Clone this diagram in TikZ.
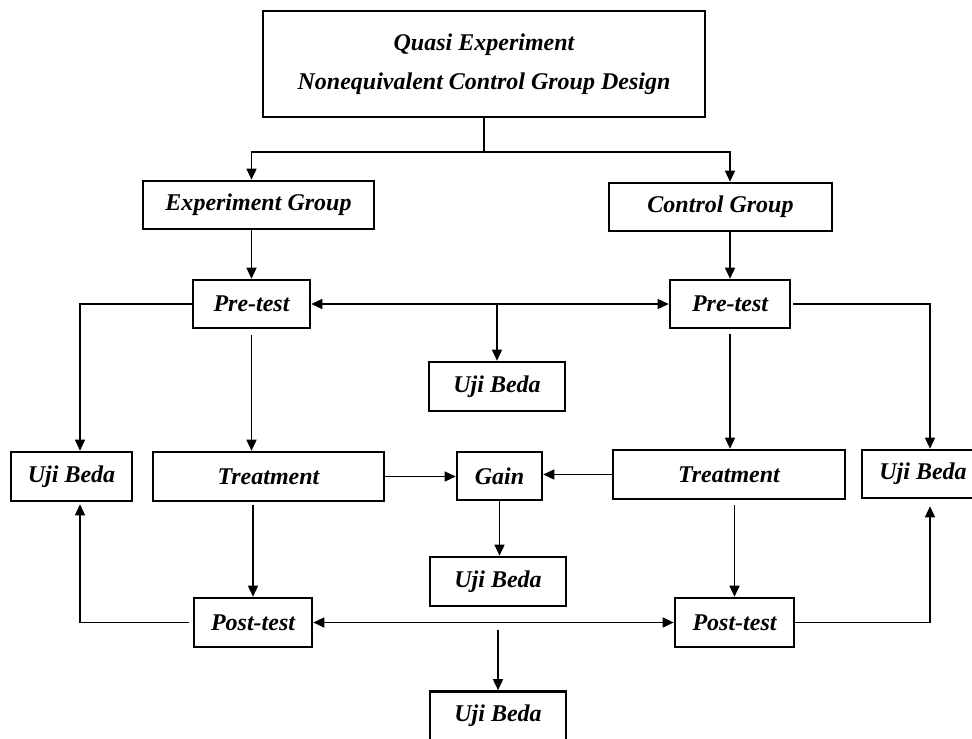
\documentclass[tikz,border=0pt]{standalone}
\usepackage{fontspec}
\setmainfont{Liberation Serif}
\usetikzlibrary{arrows.meta}

\begin{document}
\begin{tikzpicture}[%
        x = 0.5pt, y = -0.5pt,
        box/.style = {%
            draw, line width = 1.3pt, inner sep = 0pt, align = center,
            font = \bfseries\itshape\fontsize{12}{19.5}\selectfont
        },
        link/.style = {line width = 0.75pt},
        arr/.style = {link, -{Triangle[length = 5.5pt, width = 5pt]}},
        biarr/.style = {link, {Triangle[length = 5.5pt, width = 5pt]}-{Triangle[length = 5.5pt, width = 5pt]}}
    ]
        \useasboundingbox (0,0) rectangle (972,738);

        % Design and the two groups.
        \node[box, minimum width = 221pt, minimum height = 53pt] (design) at (484,64) {Quasi Experiment\\Nonequivalent Control Group Design};
        \node[box, minimum width = 115.5pt, minimum height = 24pt] (expg) at (258.5,205) {Experiment Group};
        \node[box, minimum width = 111.5pt, minimum height = 24pt] (ctrlg) at (720.5,207) {Control Group};

        % Pre-tests.
        \node[box, minimum width = 58.5pt, minimum height = 24pt] (pre1) at (251.5,304) {Pre-test};
        \node[box, minimum width = 60pt, minimum height = 24pt] (pre2) at (730,304) {Pre-test};
        \node[box, minimum width = 68pt, minimum height = 24.5pt] (ujipre) at (497,386.5) {Uji Beda};

        % Treatment row.
        \node[box, minimum width = 60.5pt, minimum height = 24.5pt] (uji1) at (71.5,476.5) {Uji Beda};
        \node[box, minimum width = 115.5pt, minimum height = 24.5pt] (treat1) at (268.5,476.5) {Treatment};
        \node[box, minimum width = 42.5pt, minimum height = 24pt] (gain) at (499.5,476) {Gain};
        \node[box, minimum width = 116pt, minimum height = 24.5pt] (treat2) at (729,474.5) {Treatment};
        \node[box, minimum width = 61pt, minimum height = 24pt] (uji2) at (923,474) {Uji Beda};
        \node[box, minimum width = 68pt, minimum height = 24.5pt] (ujigain) at (498,581.5) {Uji Beda};

        % Post-tests.
        \node[box, minimum width = 59pt, minimum height = 24.5pt] (post1) at (253,622.5) {Post-test};
        \node[box, minimum width = 59.5pt, minimum height = 24.5pt] (post2) at (734.5,622.5) {Post-test};
        \node[box, minimum width = 68pt, minimum height = 24.5pt] (ujipost) at (498,716) {Uji Beda};

        % Routing coordinates.
        \coordinate (split) at (484,152);
        \coordinate (lcol) at (80,0);
        \coordinate (rcol) at (930,0);

        % Design to groups to pre-tests.
        \draw[link] (design.south) -- (split);
        \draw[arr] (split) -| (expg.north -| pre1.north);
        \draw[arr] (split) -| (ctrlg.north -| pre2.north);
        \draw[arr] (expg.south -| pre1.north) -- (pre1.north);
        \draw[arr] (ctrlg.south -| pre2.north) -- (pre2.north);

        % Pre-test comparisons.
        \draw[biarr] (pre1.east) -- (pre2.west);
        \draw[arr] (pre1.east -| ujipre.north) -- (ujipre.north);
        \draw[arr] (pre1.west) -| (uji1.north -| lcol);
        \draw[arr, shorten <= 1pt] (pre2.east) -| (uji2.north -| rcol);

        % Pre-test to treatment to gain.
        \draw[arr, shorten <= 3pt] (pre1.south) -- (pre1.south |- treat1.north);
        \draw[arr, shorten <= 2.5pt] (pre2.south) -- (pre2.south |- treat2.north);
        \draw[arr] (treat1.east) -- (gain.west |- treat1.east);
        \draw[arr] (treat2.west) -- (gain.east |- treat2.west);
        \draw[arr] (gain.south) -- (gain.south |- ujigain.north);

        % Treatment to post-test.
        \draw[arr, shorten <= 1.5pt] (treat1.south -| post1.north) -- (post1.north);
        \draw[arr, shorten <= 2.5pt] (treat2.south -| post2.north) -- (post2.north);

        % Post-test comparisons.
        \draw[biarr] (post1.east) -- (post2.west);
        \draw[arr, shorten <= 3.5pt] (post1.east -| ujipost.north) -- (ujipost.north);
        \draw[arr, shorten <= 2pt, shorten >= 1pt] (post1.west) -| (uji1.south -| lcol);
        \draw[arr, shorten >= 3.5pt] (post2.east) -| (uji2.south -| rcol);
    \end{tikzpicture}
\end{document}
